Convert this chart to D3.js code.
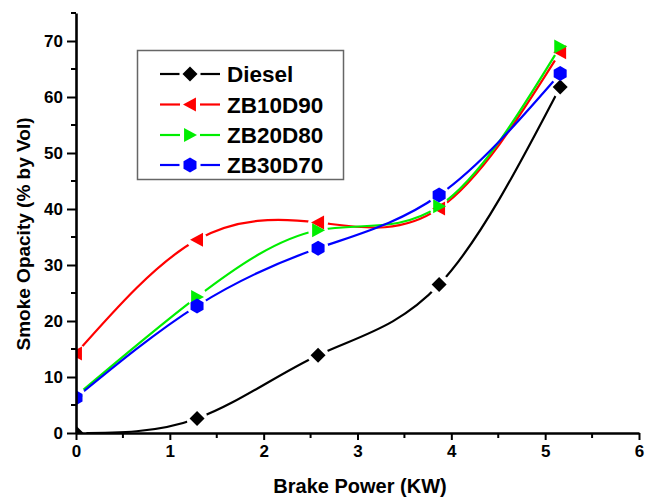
<!DOCTYPE html>
<html><head><meta charset="utf-8">
<script src="https://cdn.jsdelivr.net/npm/d3@7"></script>
<style>
html,body{margin:0;padding:0;background:#fff;}
svg{display:block;font-family:"Liberation Sans",Arial,sans-serif;}
</style></head>
<body><svg id="c" width="645" height="498"></svg>
<script>
const brakePower = [0, 1.29, 2.58, 3.87, 5.16];
const seriesNames = ["Diesel", "ZB10D90", "ZB20D80", "ZB30D70"];
const diesel  = [0, 2.6, 13.9, 26.5, 61.8];
const zb10d90 = [14.2, 34.5, 37.6, 40.1, 68.0];
const zb20d80 = [6.6, 24.3, 36.2, 40.5, 69.0];
const zb30d70 = [6.3, 22.7, 33.0, 42.5, 64.2];
const seriesColors = ["#000000", "#ff0000", "#00ee00", "#0000ff"];
const seriesSymbols = ["diamond", "triLeft", "triRight", "hexagon"];
const xTicks = [0, 1, 2, 3, 4, 5, 6];
const yTicks = [0, 10, 20, 30, 40, 50, 60, 70];
const xTitle = "Brake Power (KW)";
const yTitle = "Smoke Opacity (% by Vol)";

const allSeries = [diesel, zb10d90, zb20d80, zb30d70];

const svg = d3.select("#c");
const L = 76, R = 639, T = 13, B = 433;
const x = d3.scaleLinear().domain([0, 6]).range([L, R]);
const y = d3.scaleLinear().domain([0, 75]).range([B, T]);

function symbolPath(type, s) {
  if (type === "diamond") return `M0,${-s}L${s},0L0,${s}L${-s},0Z`;
  if (type === "triLeft") return `M${-s},0L${s*0.85},${-s}L${s*0.85},${s}Z`;
  if (type === "triRight") return `M${s},0L${-s*0.85},${-s}L${-s*0.85},${s}Z`;
  if (type === "hexagon") {
    const pts = d3.range(6).map(i => { const a = Math.PI/2 + i*Math.PI/3; return [s*Math.cos(a), s*Math.sin(a)]; });
    return "M" + pts.map(p => p.join(",")).join("L") + "Z";
  }
}
const symSize = [7.5, 7, 7, 7.5];

const defs = svg.append("defs");
defs.append("clipPath").attr("id", "plotClip").append("rect")
  .attr("x", L).attr("y", T - 10).attr("width", R - L + 10).attr("height", B - T + 10);

const line = d3.line().x(d => x(d[0])).y(d => y(d[1])).curve(d3.curveNatural);

const plot = svg.append("g").attr("clip-path", "url(#plotClip)");

allSeries.forEach((vals, si) => {
  const pts = brakePower.map((bp, i) => [bp, vals[i]]);
  const mask = defs.append("mask").attr("id", "m" + si).attr("maskUnits", "userSpaceOnUse")
    .attr("x", 0).attr("y", 0).attr("width", 645).attr("height", 498);
  mask.append("rect").attr("x", 0).attr("y", 0).attr("width", 645).attr("height", 498).attr("fill", "#fff");
  pts.forEach(p => mask.append("circle").attr("cx", x(p[0])).attr("cy", y(p[1])).attr("r", symSize[si] + 3).attr("fill", "#000"));
  const g = plot.append("g");
  g.append("path").attr("d", line(pts)).attr("fill", "none")
    .attr("stroke", seriesColors[si]).attr("stroke-width", 2.2).attr("mask", `url(#m${si})`);
  g.selectAll("path.sym").data(pts).join("path").attr("class", "sym")
    .attr("transform", d => `translate(${x(d[0])},${y(d[1])})`)
    .attr("d", symbolPath(seriesSymbols[si], symSize[si]))
    .attr("fill", seriesColors[si]);
});

// Axes
const yAxis = d3.axisLeft(y).tickValues(yTicks).tickFormat(d3.format("d")).tickSize(9).tickSizeOuter(0).tickPadding(3);
const xAxis = d3.axisBottom(x).tickValues(xTicks).tickFormat(d3.format("d")).tickSize(7).tickSizeOuter(0).tickPadding(3);

const gy = svg.append("g").attr("transform", `translate(${L},0)`).call(yAxis);
const gx = svg.append("g").attr("transform", `translate(0,${B})`).call(xAxis);
// minor ticks
const yMinor = d3.range(5, 76, 10);
gy.selectAll("line.minor").data(yMinor).join("line").attr("class", "minor")
  .attr("x1", 0).attr("x2", -5).attr("y1", d => y(d)).attr("y2", d => y(d))
  .attr("stroke", "#000").attr("stroke-width", 2);
const xMinor = d3.range(0.5, 6, 1);
gx.selectAll("line.minor").data(xMinor).join("line").attr("class", "minor")
  .attr("y1", 0).attr("y2", 5).attr("x1", d => x(d)).attr("x2", d => x(d))
  .attr("stroke", "#000").attr("stroke-width", 2);

[gx, gy].forEach(g => {
  g.select(".domain").attr("stroke", "#000").attr("stroke-width", 2.6);
  g.selectAll(".tick line").attr("stroke", "#000").attr("stroke-width", 2);
  g.selectAll(".tick text").attr("fill", "#000").attr("font-size", 17).attr("font-weight", "bold")
    .attr("font-family", "'Liberation Sans', Arial, sans-serif");
});
gx.selectAll(".tick text").attr("dy", "0.85em");
gy.selectAll(".tick text").attr("dx", "-1");

// Titles
svg.append("text").attr("x", 360).attr("y", 493).attr("text-anchor", "middle")
  .attr("font-size", 20).attr("font-weight", "bold").text(xTitle);
svg.append("text").attr("transform", "translate(30,234) rotate(-90)").attr("text-anchor", "middle")
  .attr("font-size", 19).attr("font-weight", "bold").text(yTitle);

// Legend
const lg = svg.append("g");
lg.append("rect").attr("x", 137.5).attr("y", 50.5).attr("width", 206).attr("height", 129)
  .attr("fill", "#fff").attr("stroke", "#666").attr("stroke-width", 1.5);
const rowY = [74, 104.5, 135, 165];
seriesNames.forEach((name, i) => {
  const yy = rowY[i];
  const s = symSize[i];
  lg.append("line").attr("x1", 160).attr("x2", 190 - s - 3).attr("y1", yy).attr("y2", yy)
    .attr("stroke", seriesColors[i]).attr("stroke-width", 2.2);
  lg.append("line").attr("x1", 190 + s + 3).attr("x2", 220).attr("y1", yy).attr("y2", yy)
    .attr("stroke", seriesColors[i]).attr("stroke-width", 2.2);
  lg.append("path").attr("transform", `translate(190,${yy})`).attr("d", symbolPath(seriesSymbols[i], s))
    .attr("fill", seriesColors[i]);
  lg.append("text").attr("x", 227).attr("y", yy + 8).attr("font-size", 22.5).attr("font-weight", "bold")
    .attr("fill", "#000").text(name);
});
</script></body></html>
